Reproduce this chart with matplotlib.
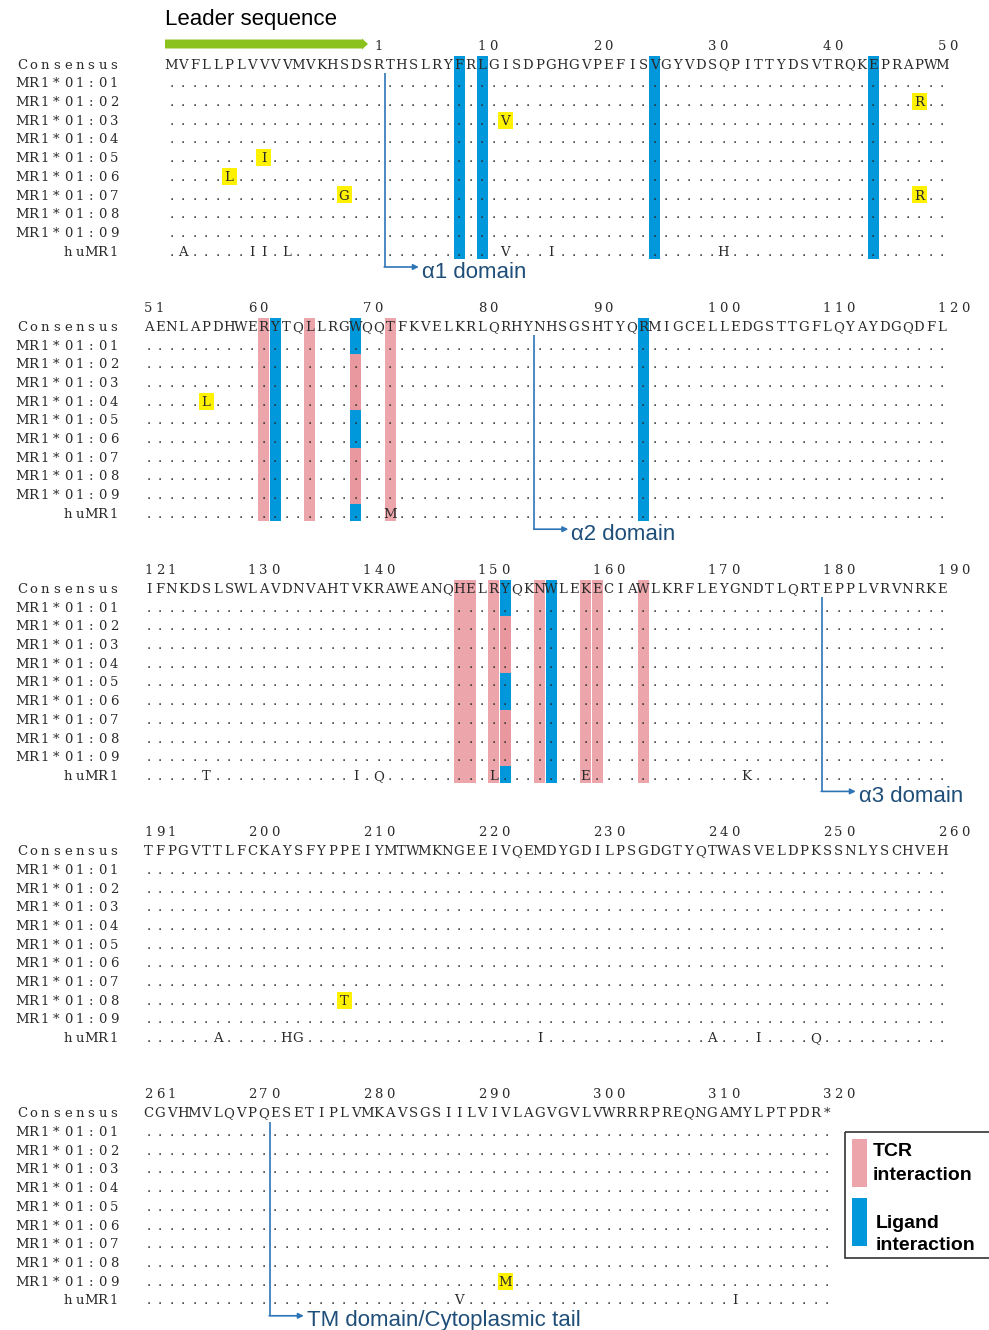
import matplotlib
matplotlib.use("Agg")
import matplotlib.pyplot as plt
from matplotlib.patches import Rectangle, FancyArrow

# MR1 alignment: leader peptide (negative numbering) + mature protein 1..320
leader = "MVFLLPLVVVVMVKHSDS"
mature = ("RTHSLRYFRLGISDPGHGVPEFISVGYVDSQPITTYDSVTRQKEPRAPWM"
          "AENLAPDHWERYTQLLRGWQQTFKVELKRLQRHYNHSGSHTYQRMIGCELLEDGSTTGFLQYAYDGQDFL"
          "IFNKDSLSWLAVDNVAHTVKRAWEANQHELRYQKNWLEKECIAWLKRFLEYGNDTLQRTEPPLVRVNRKE"
          "TFPGVTTLFCKAYSFYPPEIYMTWMKNGEEIVQEMDYGDILPSGDGTYQTWASVELDPKSSNLYSCHVEH"
          "CGVHMVLQVPQESETIPLVMKAVSGSIILVIVLAGVGVLVWRRRPREQNGAMYLPTPDR*")

blocks = [(-18, 50), (51, 120), (121, 190), (191, 260), (261, 320)]
block_numbers = [
    [1, 10, 20, 30, 40, 50],
    [51, 60, 70, 80, 90, 100, 110, 120],
    [121, 130, 140, 150, 160, 170, 180, 190],
    [191, 200, 210, 220, 230, 240, 250, 260],
    [261, 270, 280, 290, 300, 310, 320],
]

alleles = ["MR1*01:01", "MR1*01:02", "MR1*01:03", "MR1*01:04", "MR1*01:05",
           "MR1*01:06", "MR1*01:07", "MR1*01:08", "MR1*01:09"]
allele_subs = {
    "MR1*01:02": [(48, "R")],
    "MR1*01:03": [(12, "V")],
    "MR1*01:04": [(56, "L")],
    "MR1*01:05": [(-10, "I")],
    "MR1*01:06": [(-13, "L")],
    "MR1*01:07": [(-3, "G"), (48, "R")],
    "MR1*01:08": [(208, "T")],
    "MR1*01:09": [(292, "M")],
}
human_subs = [(-17, "A"), (-11, "I"), (-10, "I"), (-8, "L"), (12, "V"), (16, "I"),
              (31, "H"), (72, "M"), (126, "T"), (139, "I"), (141, "Q"), (151, "L"),
              (159, "E"), (173, "K"), (197, "A"), (203, "H"), (204, "G"), (225, "I"),
              (240, "A"), (244, "I"), (249, "Q"), (288, "V"), (312, "I")]

tcr_sites = [61, 65, 72, 148, 149, 151, 155, 159, 160, 164]
ligand_sites = [8, 10, 25, 44, 62, 94, 156]
shared_sites = [69, 152]
# contact type per row (consensus, 9 alleles, huMR1) for the shared sites
shared_rows = ["L", "L", "T", "T", "T", "L", "L", "T", "T", "T", "L"]

# domain boundaries: domain starts after the given residue
domains = [("α1 domain", 1), ("α2 domain", 84), ("α3 domain", 179),
           ("TM domain/Cytoplasmic tail", 271)]

PINK = "#eba5ab"
PINK_MIX = "#e8989e"
BLUE = "#0098da"
YELLOW = "#fff200"
GREEN = "#8cc21e"
LINE_BLUE = "#2e75b6"
TEXT_BLUE = "#1f4e79"
INK = "#2a2a2a"

X0, DX = 22.0, 11.5          # character grid
Y0, BLOCK_DY, ROW_DY = 64.0, 262.2, 18.7
GRID_START = [13, 11, 11, 11, 11]
SEQ_FONT = dict(family="DejaVu Serif", fontsize=9.5, color=INK)

full = leader + mature


def seq_index(pos):
    return pos + 18 if pos < 0 else pos + 17


def block_of(pos):
    for b, (s, e) in enumerate(blocks):
        if s <= pos <= e:
            return b


def col_x(b, pos):
    return X0 + (GRID_START[b] + seq_index(pos) - seq_index(blocks[b][0])) * DX


def row_y(b, r):
    return Y0 + b * BLOCK_DY + r * ROW_DY


def block_positions(b):
    s, e = blocks[b]
    return [p for p in range(s, e + 1) if p != 0]


def put(x, y, ch, **kw):
    style = dict(SEQ_FONT)
    style.update(kw)
    ax.text(x, y + 4.6, ch, ha="center", va="baseline", **style)


fig = plt.figure(figsize=(9.89, 13.30), dpi=100)
ax = fig.add_axes([0, 0, 1, 1])
ax.set_xlim(0, 989)
ax.set_ylim(1330, 0)
ax.axis("off")

row_names = ["Consensus"] + alleles + ["huMR1"]
row_subs = [[]] + [allele_subs.get(a, []) for a in alleles] + [human_subs]
W = 11.0

for b in range(len(blocks)):
    top = row_y(b, 0) - 8
    bottom = row_y(b, 10) + 7.5

    # contact-site columns
    for pos in tcr_sites + ligand_sites:
        if block_of(pos) != b:
            continue
        color = PINK if pos in tcr_sites else BLUE
        ax.add_patch(Rectangle((col_x(b, pos) - W / 2, top), W, bottom - top,
                               color=color, lw=0, zorder=1))
    for pos in shared_sites:
        if block_of(pos) != b:
            continue
        for r, kind in enumerate(shared_rows):
            y1 = top if r == 0 else (row_y(b, r - 1) + row_y(b, r)) / 2
            y2 = bottom if r == 10 else (row_y(b, r) + row_y(b, r + 1)) / 2
            ax.add_patch(Rectangle((col_x(b, pos) - W / 2, y1), W, y2 - y1,
                                   color=BLUE if kind == "L" else PINK_MIX,
                                   lw=0, zorder=1))

    # position numbers
    for n in block_numbers[b]:
        for j, ch in enumerate(str(n)):
            put(col_x(b, n) + j * DX, row_y(b, 0) - 19, ch)

    # rows
    for r, name in enumerate(row_names):
        y = row_y(b, r)
        k0 = 9 - len(name)
        for j, ch in enumerate(name):
            put(X0 + (k0 + j) * DX, y, ch)
        subs = dict(row_subs[r])
        for pos in block_positions(b):
            x = col_x(b, pos)
            if r == 0:
                put(x, y, full[seq_index(pos)])
            elif pos in subs:
                if 0 < r < 10:
                    ax.add_patch(Rectangle((x - 7.5, y - 8.5), 15, 17,
                                           color=YELLOW, lw=0, zorder=1.5))
                put(x, y, subs[pos])
            else:
                put(x, y, ".")

# leader peptide arrow
ax.add_patch(FancyArrow(165, 44, 203, 0, width=9, head_width=11, head_length=6,
                        length_includes_head=True, color=GREEN, lw=0))
ax.text(165, 19, "Leader sequence", ha="left", va="center",
        family="Liberation Sans", fontsize=16, color="black")

# domain boundary markers
for label, after in domains:
    b = block_of(after)
    x = col_x(b, after) + 0.55 * DX
    y_top = row_y(b, 0) + 9
    y_arr = row_y(b, 10) + 16
    ax.plot([x, x], [y_top, y_arr], color=LINE_BLUE, lw=1.2, solid_capstyle="butt")
    ax.annotate("", xy=(x + 34, y_arr), xytext=(x - 0.6, y_arr),
                arrowprops=dict(arrowstyle="-|>", color=LINE_BLUE, lw=1.2,
                                mutation_scale=8, shrinkA=0, shrinkB=0))
    ax.text(x + 37, y_arr + 5, label, ha="left", va="center",
            family="Liberation Sans", fontsize=16, color=TEXT_BLUE)

# legend
ax.add_patch(Rectangle((845, 1131.5), 146, 126.5, fill=False, ec="#333333", lw=1.2))
ax.add_patch(Rectangle((852, 1139), 14.5, 48, color=PINK, lw=0))
ax.add_patch(Rectangle((852, 1198), 14.5, 48, color=BLUE, lw=0))
leg_font = dict(family="Liberation Sans", fontsize=14, fontweight="bold",
                color="black", ha="left", va="center")
ax.text(873, 1151, "TCR", **leg_font)
ax.text(873, 1175, "interaction", **leg_font)
ax.text(876, 1223, "Ligand", **leg_font)
ax.text(876, 1246, "interaction", **leg_font)

fig.savefig("out.png", dpi=100)
